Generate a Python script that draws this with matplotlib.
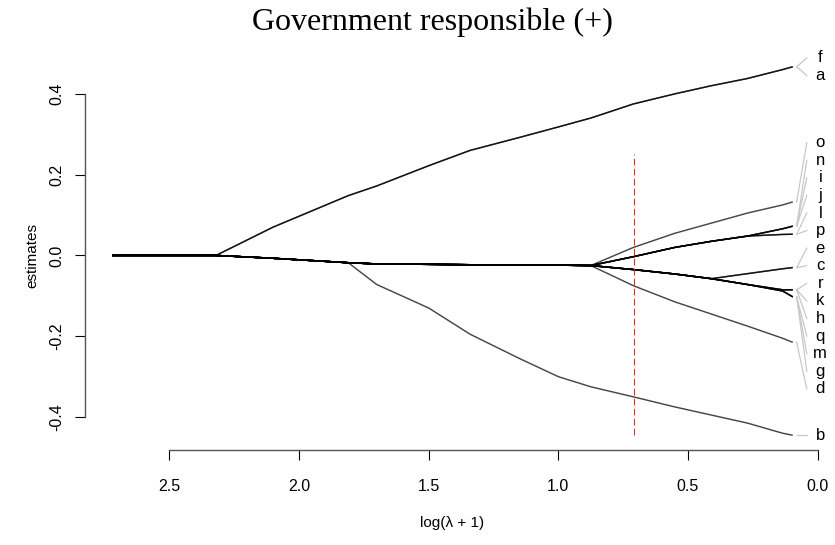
import numpy as np
import matplotlib.pyplot as plt

# knots of the coefficient path, on the log(lambda + 1) scale
log_lam = [2.72, 2.32, 2.10, 1.81, 1.70, 1.50, 1.34, 1.15, 1.00, 0.875,
           0.71, 0.55, 0.41, 0.27, 0.135, 0.096]

# shared (fused) part of the path before the groups split
trunk = [0.0, 0.0, -0.007, -0.018, -0.021, -0.022, -0.023, -0.023, -0.024, -0.025]

path_fa = [0.0, 0.0, 0.07, 0.148, 0.172, 0.222, 0.26, 0.292, 0.318, 0.34,
           0.375, 0.40, 0.42, 0.438, 0.46, 0.467]
path_b = trunk[:4] + [-0.072, -0.13, -0.195, -0.255, -0.30, -0.325,
                      -0.35, -0.375, -0.395, -0.415, -0.44, -0.445]
path_g1 = trunk + [0.02, 0.055, 0.08, 0.105, 0.125, 0.1325]
path_g2 = trunk + [-0.003, 0.02, 0.035, 0.048, 0.066, 0.0725]
path_g3 = trunk + [-0.003, 0.02, 0.035, 0.048, 0.052, 0.0525]
path_g4 = trunk + [-0.035, -0.046, -0.0575, -0.045, -0.033, -0.03]
path_g5 = trunk + [-0.035, -0.046, -0.0575, -0.072, -0.085, -0.085]
path_g6 = trunk + [-0.035, -0.046, -0.0575, -0.072, -0.088, -0.1025]
path_g7 = trunk + [-0.075, -0.115, -0.145, -0.175, -0.205, -0.215]

# variables, listed top to bottom by their value at the smallest lambda
var_names = ['f', 'a', 'o', 'n', 'i', 'j', 'l', 'p', 'e', 'c',
             'r', 'k', 'h', 'q', 'm', 'g', 'd', 'b']
var_paths = [path_fa, path_fa, path_g1, path_g2, path_g2, path_g2, path_g3,
             path_g3, path_g4, path_g4, path_g5, path_g5, path_g5, path_g6,
             path_g6, path_g6, path_g7, path_b]

lam_cv = 0.708


def spread_labels(vals, gap, n_iter=500):
    # push label positions apart so neighbouring labels keep a minimum gap
    pos = np.array(vals, dtype=float)
    for _ in range(n_iter):
        moved = False
        for i in range(len(pos) - 1):
            d = pos[i] - pos[i + 1]
            if d < gap - 1e-9:
                shift = (gap - d) / 2
                pos[i] += shift
                pos[i + 1] -= shift
                moved = True
        if not moved:
            break
    return pos


plt.rcParams['font.family'] = ['Liberation Sans', 'DejaVu Sans']

fig = plt.figure(figsize=(8.35, 5.45), dpi=100)
ax = fig.add_axes([85 / 835, 95 / 545, 735 / 835, 398 / 545])

x = np.array(log_lam)
for y in var_paths:
    ax.plot(x, y, color='#000000', lw=1.05, alpha=0.72, solid_capstyle='butt')

all_y = np.concatenate([np.array(v) for v in var_paths])
ypad = 0.04 * (all_y.max() - all_y.min())
xpad = 0.04 * (x.max() - x.min())
ax.set_xlim(x.max() + xpad, x.min() - xpad)
ax.set_ylim(all_y.min() - ypad, all_y.max() + ypad)

# cross-validated lambda
ax.plot([lam_cv, lam_cv], [all_y.min(), 0.25], color='#e0301e', lw=0.8,
        dashes=(6, 3))

# variable labels on the right with leader lines
ends = [p[-1] for p in var_paths]
lab_pos = spread_labels(ends, gap=0.0435)
x_end = x.min()
for name, ye, yl in zip(var_names, ends, lab_pos):
    ax.plot([x_end - 0.015, x_end - 0.054], [ye, yl],
            color='#c8c8c8', lw=0.9, clip_on=False)
    ax.text(x_end - 0.106, yl, name, ha='center', va='center', fontsize=12,
            clip_on=False)

for side in ('top', 'right'):
    ax.spines[side].set_visible(False)
ax.spines['left'].set_bounds(-0.4, 0.4)
ax.spines['bottom'].set_bounds(0.0, 2.5)
for side in ('left', 'bottom'):
    ax.spines[side].set_color('#555555')
    ax.spines[side].set_linewidth(1.0)

ax.set_xticks([2.5, 2.0, 1.5, 1.0, 0.5, 0.0])
ax.set_xticklabels(['2.5', '2.0', '1.5', '1.0', '0.5', '0.0'])
ax.set_yticks([-0.4, -0.2, 0.0, 0.2, 0.4])
ax.set_yticklabels(['-0.4', '-0.2', '0.0', '0.2', '0.4'])
ax.tick_params(length=7, width=0.8, labelsize=11.5)
ax.tick_params(axis='x', pad=14)
ax.tick_params(axis='y', pad=8)
plt.setp(ax.get_yticklabels(), rotation=90, va='center')

fig.text(432 / 835, 1 - 22 / 545, 'Government responsible (+)',
         family='Liberation Serif', fontsize=23, ha='center', va='center')
fig.text(32 / 835, 1 - 255 / 545, 'estimates', rotation=90, fontsize=11,
         ha='center', va='center')
fig.text(452 / 835, 1 - 523 / 545, 'log(λ + 1)', fontsize=11,
         ha='center', va='center')

fig.savefig('out.png', dpi=100)
